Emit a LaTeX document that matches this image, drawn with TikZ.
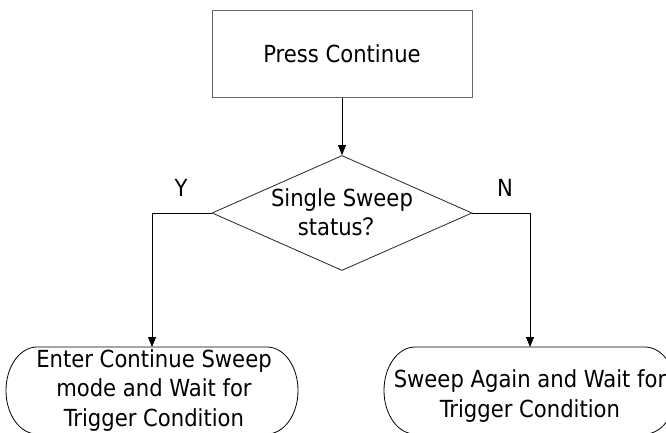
\documentclass[tikz,border=0pt]{standalone}
\usepackage{fontspec}
\setmainfont{DejaVu Sans Condensed}
\newfontfamily\cjk{Noto Sans CJK SC}
\usetikzlibrary{arrows.meta,shapes.geometric}
\tikzset{
  txt/.style={font=\fontsize{23.5}{29.5}\selectfont, align=center, inner sep=0pt},
  boxline/.style={draw=black!60, line width=0.9pt},
  conn/.style={draw=black, line width=0.8pt},
  arr/.style={conn, -{Triangle[length=10pt,width=8pt]}},
}
\begin{document}
\begin{tikzpicture}[x=1pt,y=-1pt]
\useasboundingbox (0,0) rectangle (666,433);
\clip (0,0) rectangle (666,433);
\fill[white] (0,0) rectangle (666,433);
% process box
\node[boxline, txt, minimum width=260pt, minimum height=87pt] (press) at (342,54) {Press Continue};
% decision
\node[diamond, draw=black!85, line width=0.8pt, minimum width=260pt, minimum height=115pt, inner sep=0pt] (dec) at (342,213) {};
\node[txt] (dectext) at (342,212) {Single Sweep\\status{\cjk ？}};
\node[txt] (ylab) at (181,188) {Y};
\node[txt] (nlab) at (505,188) {N};
% terminators
\node[txt] (left) at (154,390.5) {Enter Continue Sweep\\mode and Wait for\\Trigger Condition};
\node[txt] (right) at (530,396) {Sweep Again and Wait for\\Trigger Condition};
\coordinate (ltop) at (152,347);
\coordinate (rtop) at (530,347);
\draw[conn] (37,347) -- (267,347) arc[start angle=90, end angle=-90, x radius=31, y radius=-43.5]
  -- (37,434) arc[start angle=270, end angle=90, x radius=31, y radius=-43.5] -- cycle;
\draw[conn] (415,347) -- (645,347) arc[start angle=90, end angle=-90, x radius=31, y radius=-43.5]
  -- (415,434) arc[start angle=270, end angle=90, x radius=31, y radius=-43.5] -- cycle;
% connectors
\draw[arr] (press.south) -- (dec.north);
\draw[arr] (dec.west) -| (ltop);
\draw[arr] (dec.east) -| (rtop);
\end{tikzpicture}
\end{document}
